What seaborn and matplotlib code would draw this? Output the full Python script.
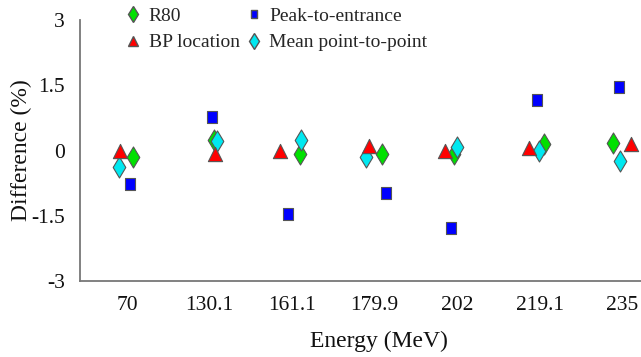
import numpy as np
import pandas as pd
import matplotlib
matplotlib.use("Agg")
import matplotlib.pyplot as plt
import seaborn as sns
from matplotlib.lines import Line2D

# ---- data ----
energies = ["70", "130.1", "161.1", "179.9", "202", "219.1", "235"]
r80 = [-0.14, 0.23, -0.07, -0.07, -0.07, 0.16, 0.18]
bp_location = [0.0, -0.07, 0.0, 0.11, -0.02, 0.05, 0.16]
peak_to_entrance = [-0.78, 0.78, -1.45, -0.97, -1.79, 1.17, 1.47]
mean_p2p = [-0.39, 0.21, 0.25, -0.16, 0.09, -0.02, -0.25]
y_ticks = [-3, -1.5, 0, 1.5, 3]
y_ticklabels = ["-3", "-1.5", "0", "1.5", "3"]

# horizontal jitter (category units) used in the original figure to separate markers
jit_r80 = [0.07, 0.06, 0.10, 0.085, -0.04, 0.05, -0.11]
jit_bp = [-0.085, 0.07, -0.145, -0.07, -0.145, -0.13, 0.11]
jit_mean = [-0.10, 0.085, 0.11, -0.10, 0.0, -0.01, -0.025]
jit_peak = [0.04, 0.025, -0.05, 0.145, -0.07, -0.025, -0.035]

series = [
    ("R80", r80, jit_r80),
    ("Mean point-to-point", mean_p2p, jit_mean),
    ("BP location", bp_location, jit_bp),
    ("Peak-to-entrance", peak_to_entrance, jit_peak),
]
rows = []
for name, vals, jit in series:
    for i, (e, v) in enumerate(zip(energies, vals)):
        rows.append({"Energy": e, "pos": i + jit[i], "Difference": v, "Series": name})
df = pd.DataFrame(rows)

tall_square = [(-0.82, -1), (0.82, -1), (0.82, 1), (-0.82, 1), (-0.82, -1)]
palette = {"R80": "#00e000", "BP location": "#ff0000",
           "Peak-to-entrance": "#0000ff", "Mean point-to-point": "#00e8f0"}
markers = {"R80": "d", "BP location": "^",
           "Peak-to-entrance": tall_square, "Mean point-to-point": "d"}
sizes_map = {"R80": 115, "BP location": 105, "Peak-to-entrance": 85, "Mean point-to-point": 115}

sns.set_theme(style="white")
plt.rcParams["font.family"] = ["Liberation Serif", "DejaVu Serif"]

fig = plt.figure(figsize=(6.41, 3.57), dpi=100)
ax = fig.add_axes([80 / 641, 1 - 281 / 357, 561 / 641, 261 / 357])

for name, _, _ in series:
    sub = df[df["Series"] == name]
    sns.scatterplot(data=sub, x="pos", y="Difference", color=palette[name],
                    marker=markers[name], s=sizes_map[name], edgecolor="#555555",
                    linewidth=0.8, ax=ax, legend=False, zorder=3)

ax.set_xlim(-0.57, 6.23)
ax.set_ylim(-3, 3)
ax.set_xticks(range(len(energies)))
ax.set_xticklabels(energies)
ax.set_yticks(y_ticks)
ax.set_yticklabels(y_ticklabels)
for s in ["top", "right"]:
    ax.spines[s].set_visible(False)
for s in ["left", "bottom"]:
    ax.spines[s].set_color("#777777")
    ax.spines[s].set_linewidth(1.3)
ax.tick_params(axis="both", direction="in", length=6, width=1, color="#777777",
               labelsize=15.5, pad=11, labelcolor="#111111")
ax.set_xlabel("Energy (MeV)", fontsize=17, color="#111111")
ax.set_ylabel("Difference (%)", fontsize=17, color="#111111")
ax.xaxis.set_label_coords(0.533, -0.19)
ax.yaxis.set_label_coords(-0.085, 0.5)

handles = [
    Line2D([], [], ls="none", marker="d", color="#00e000", mec="#555555", ms=8, label="R80"),
    Line2D([], [], ls="none", marker="^", color="#ff0000", mec="#555555", ms=7, label="BP location"),
    Line2D([], [], ls="none", marker=tall_square, color="#0000ff", mec="#555555", ms=6, label="Peak-to-entrance"),
    Line2D([], [], ls="none", marker="d", color="#00e8f0", mec="#555555", ms=8, label="Mean point-to-point"),
]
fig.legend(handles=handles, ncol=2, frameon=False, loc="upper left",
           bbox_to_anchor=(104 / 641, 1.028), fontsize=14, handletextpad=0.2,
           columnspacing=0.12, labelspacing=0.45, handlelength=1.2)

fig.savefig("out.png", dpi=100)
